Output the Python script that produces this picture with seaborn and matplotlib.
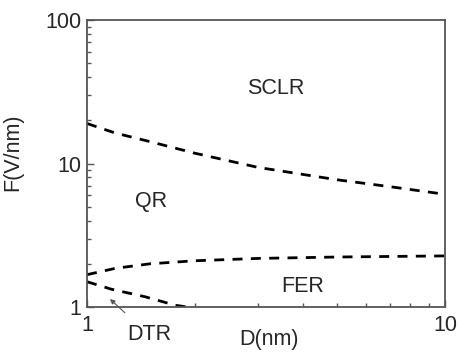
import matplotlib
matplotlib.use("Agg")
import matplotlib.pyplot as plt
import seaborn as sns
import numpy as np
import pandas as pd
from matplotlib.ticker import FixedLocator, NullFormatter

# Data
d_sclr = [1.0, 1.2, 1.5, 2.0, 3.0, 4.0, 5.0, 7.0, 10.0]
f_sclr = [19.0, 16.3, 14.2, 11.8, 9.4, 8.4, 7.7, 6.9, 6.1]

d_fer = [1.0, 1.2, 1.5, 2.0, 3.0, 5.0, 7.0, 10.0]
f_fer = [1.68, 1.86, 2.0, 2.1, 2.18, 2.23, 2.25, 2.27]

d_dtr = [1.0, 1.17, 1.45, 1.76, 1.9, 2.0]
f_dtr = [1.50, 1.33, 1.18, 1.03, 1.0, 0.98]

x_ticks = [1, 10]
x_tick_labels = ["1", "10"]
y_ticks = [1, 10, 100]
y_tick_labels = ["1", "10", "100"]

region_labels = ["SCLR", "QR", "FER", "DTR"]

sns.set_style("ticks")
plt.rcParams['font.family'] = ['Liberation Sans', 'DejaVu Sans']

fig = plt.figure(figsize=(4.59, 3.52), dpi=100)
ax = fig.add_axes([87/459, 1-307/352, (445-87)/459, (307-20)/352])

df = pd.concat([
    pd.DataFrame({"D": d_sclr, "F": f_sclr, "curve": "sclr"}),
    pd.DataFrame({"D": d_fer, "F": f_fer, "curve": "fer"}),
    pd.DataFrame({"D": d_dtr, "F": f_dtr, "curve": "dtr"}),
])

for name in ["sclr", "fer", "dtr"]:
    sub = df[df["curve"] == name]
    sns.lineplot(data=sub, x="D", y="F", ax=ax, color="black", lw=2.0,
                 linestyle=(0, (3.6, 3.0)), estimator=None, sort=False,
                 legend=False)

ax.set_xscale("log")
ax.set_yscale("log")
ax.set_xlim(1, 10)
ax.set_ylim(1, 100)

ax.xaxis.set_major_locator(FixedLocator(x_ticks))
ax.set_xticklabels(x_tick_labels)
ax.yaxis.set_major_locator(FixedLocator(y_ticks))
ax.set_yticklabels(y_tick_labels)
ax.xaxis.set_minor_locator(FixedLocator([i for i in range(2, 10)]))
ax.yaxis.set_minor_locator(FixedLocator([i for i in range(2, 10)] + [i*10 for i in range(2, 10)]))
ax.xaxis.set_minor_formatter(NullFormatter())
ax.yaxis.set_minor_formatter(NullFormatter())

ax.tick_params(axis="both", which="major", direction="in", length=5, width=1,
               color="#555555", labelsize=15.5, pad=4, top=False, right=False)
ax.tick_params(axis="both", which="minor", direction="in", length=3, width=1,
               color="#555555", top=False, right=False)
ax.tick_params(axis="x", which="major", pad=6)

for s in ax.spines.values():
    s.set_color("#555555")
    s.set_linewidth(1.3)

ax.set_xlabel("D(nm)", fontsize=15.5)
ax.set_ylabel("F(V/nm)", fontsize=15.5)
ax.xaxis.set_label_coords(0.508, -0.075)
ax.yaxis.set_label_coords(-0.178, 0.538)

def px(x, y):
    return ((x - 87) / 358, (307 - y) / 287)

ax.text(*px(276, 88), region_labels[0], transform=ax.transAxes, fontsize=15.5,
        ha="center", va="center")
ax.text(*px(151, 201), region_labels[1], transform=ax.transAxes, fontsize=15.5,
        ha="center", va="center")
ax.text(*px(303, 287), region_labels[2], transform=ax.transAxes, fontsize=15.5,
        ha="center", va="center")
ax.annotate(region_labels[3], xy=px(110, 299), xycoords="axes fraction",
            xytext=px(149, 335), textcoords="axes fraction", fontsize=15.5,
            ha="center", va="center", annotation_clip=False,
            arrowprops=dict(arrowstyle="-|>", color="#555555", lw=0.8,
                            shrinkA=9, shrinkB=0, mutation_scale=7))

fig.savefig("out.png", dpi=100)
